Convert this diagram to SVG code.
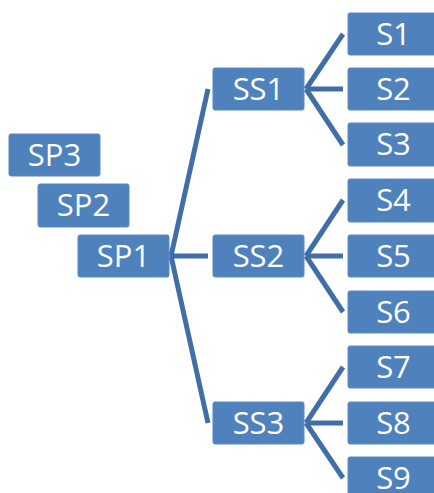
<svg xmlns="http://www.w3.org/2000/svg" width="434" height="493" viewBox="0 0 434 493">
<style>
.box{fill:#4F81BD;stroke:#5A8AC6;stroke-width:1}
.lbl{font-family:"Open Sans",Lato,"Liberation Sans",sans-serif;font-size:31px;fill:#FFFFFF;text-anchor:middle}
.ln{stroke:#416EA6;stroke-width:5;fill:none;stroke-linecap:butt}
</style>
<rect width="434" height="493" fill="#FFFFFF"/>
<g id="connectors">
<line class="ln" x1="171" y1="256" x2="208" y2="89"/>
<line class="ln" x1="171" y1="256" x2="208" y2="256"/>
<line class="ln" x1="171" y1="256" x2="208" y2="423"/>
<line class="ln" x1="306" y1="89" x2="343" y2="34"/>
<line class="ln" x1="306" y1="89" x2="343" y2="89"/>
<line class="ln" x1="306" y1="89" x2="343" y2="145"/>
<line class="ln" x1="306" y1="256" x2="343" y2="200"/>
<line class="ln" x1="306" y1="256" x2="343" y2="256"/>
<line class="ln" x1="306" y1="256" x2="343" y2="312"/>
<line class="ln" x1="306" y1="423" x2="343" y2="367"/>
<line class="ln" x1="306" y1="423" x2="343" y2="423"/>
<line class="ln" x1="306" y1="423" x2="343" y2="478"/>
</g>
<g id="SP3"><rect class="box" x="9" y="134" width="91" height="42" rx="2"/><text class="lbl" x="54.5" y="166">SP3</text></g>
<g id="SP2"><rect class="box" x="38" y="184" width="91" height="43" rx="2"/><text class="lbl" x="83.5" y="216">SP2</text></g>
<g id="SP1"><rect class="box" x="78" y="235" width="91" height="42" rx="2"/><text class="lbl" x="123.5" y="267">SP1</text></g>
<g id="SS1"><rect class="box" x="213" y="68" width="91" height="42" rx="2"/><text class="lbl" x="258.5" y="100">SS1</text></g>
<g id="SS2"><rect class="box" x="213" y="235" width="91" height="42" rx="2"/><text class="lbl" x="258.5" y="267">SS2</text></g>
<g id="SS3"><rect class="box" x="213" y="402" width="91" height="42" rx="2"/><text class="lbl" x="258.5" y="434">SS3</text></g>
<g id="S1"><rect class="box" x="348" y="13" width="91" height="42" rx="2"/><text class="lbl" x="393.5" y="45">S1</text></g>
<g id="S2"><rect class="box" x="348" y="68" width="91" height="42" rx="2"/><text class="lbl" x="393.5" y="100">S2</text></g>
<g id="S3"><rect class="box" x="348" y="123" width="91" height="43" rx="2"/><text class="lbl" x="393.5" y="155">S3</text></g>
<g id="S4"><rect class="box" x="348" y="179" width="91" height="43" rx="2"/><text class="lbl" x="393.5" y="211">S4</text></g>
<g id="S5"><rect class="box" x="348" y="235" width="91" height="42" rx="2"/><text class="lbl" x="393.5" y="267">S5</text></g>
<g id="S6"><rect class="box" x="348" y="291" width="91" height="42" rx="2"/><text class="lbl" x="393.5" y="323">S6</text></g>
<g id="S7"><rect class="box" x="348" y="346" width="91" height="42" rx="2"/><text class="lbl" x="393.5" y="378">S7</text></g>
<g id="S8"><rect class="box" x="348" y="402" width="91" height="42" rx="2"/><text class="lbl" x="393.5" y="434">S8</text></g>
<g id="S9"><rect class="box" x="348" y="457" width="91" height="42" rx="2"/><text class="lbl" x="393.5" y="489">S9</text></g>
</svg>
